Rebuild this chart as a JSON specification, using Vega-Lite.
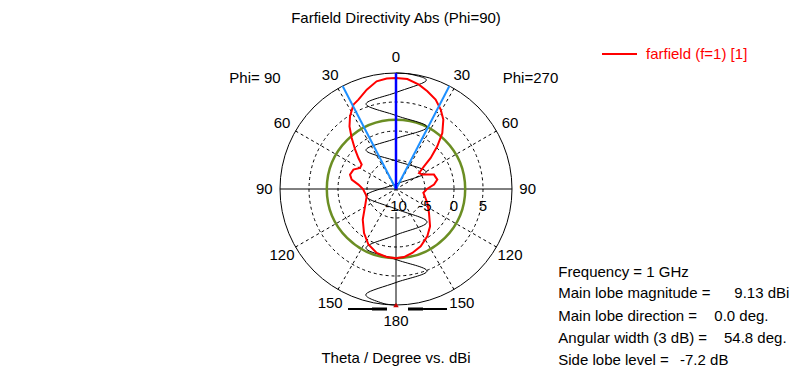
{
"$schema":"https://vega.github.io/schema/vega-lite/v6.json",
"width":792,"height":378,"padding":0,"autosize":{"type":"none"},
"background":"#ffffff",
"config":{"view":{"stroke":null},"text":{"font":"Liberation Sans","fontSize":15,"color":"#000000"}},
"datasets":{
"farfield":[
{"angle":0,"db":9.13},{"angle":5.9,"db":9.07},{"angle":12.4,"db":8.43},{"angle":17.8,"db":7.69},{"angle":23.9,"db":6.86},{"angle":29.4,"db":5.71},{"angle":34.3,"db":4.48},{"angle":39.6,"db":2.53},{"angle":44,"db":0.24},{"angle":48.2,"db":-1.98},{"angle":51,"db":-3.79},{"angle":55.2,"db":-5.17},{"angle":61.3,"db":-4.83},{"angle":69.2,"db":-3.0},{"angle":77.2,"db":-2.69},{"angle":83.4,"db":-3.4},{"angle":90,"db":-4.66},{"angle":97.7,"db":-5.24},{"angle":114,"db":-4.09},{"angle":126,"db":-2.97},{"angle":137.6,"db":-1.29},{"angle":146.5,"db":-0.22},{"angle":156.7,"db":0.76},{"angle":165.7,"db":1.38},{"angle":173.3,"db":1.81},{"angle":180,"db":1.93},
{"angle":187.8,"db":1.83},{"angle":196.8,"db":1.52},{"angle":206.4,"db":0.69},{"angle":216,"db":-0.62},{"angle":227.4,"db":-2.21},{"angle":240.8,"db":-3.88},{"angle":256,"db":-4.79},{"angle":270,"db":-4.31},{"angle":276.7,"db":-3.47},{"angle":282,"db":-2.19},{"angle":287.4,"db":-1.69},{"angle":294.5,"db":-1.93},{"angle":300.3,"db":-2.81},{"angle":305.4,"db":-2.74},{"angle":309.5,"db":-1.6},{"angle":314,"db":-0.19},{"angle":319,"db":1.64},{"angle":323.4,"db":3.45},{"angle":327.7,"db":4.83},{"angle":333.2,"db":6.29},{"angle":337.2,"db":6.72},{"angle":343.6,"db":7.86},{"angle":349.8,"db":8.86},{"angle":355.2,"db":9.1},{"angle":360,"db":9.13}
],
"trace":[
{"i":0,"angle":0,"db":10.0},{"i":1,"angle":7.95,"db":9.93},{"i":2,"angle":15.5,"db":9.33},{"i":3,"angle":0,"db":6.64},{"i":4,"angle":340.6,"db":5.54},{"i":5,"angle":0,"db":2.67},{"i":6,"angle":26.6,"db":1.95},{"i":7,"angle":0,"db":-1.29},{"i":8,"angle":322.4,"db":-1.52},{"i":9,"angle":0,"db":-5.17},{"i":10,"angle":60.5,"db":-4.05},{"i":11,"angle":0,"db":-9.14},{"i":12,"angle":256.9,"db":-4.69},{"i":13,"angle":180,"db":-6.55},{"i":14,"angle":136.8,"db":-2.19},{"i":15,"angle":180,"db":-2.07},{"i":16,"angle":207,"db":1.41},{"i":17,"angle":180,"db":2.16},{"i":18,"angle":159.3,"db":5.12},{"i":19,"angle":180,"db":6.12},{"i":20,"angle":195.9,"db":8.83},{"i":21,"angle":187,"db":9.81},{"i":22,"angle":180,"db":10.0}
],
"rings":[{"db":-5},{"db":0},{"db":5}],
"outer":[{"db":10}],
"sidelobe":[{"db":1.93}],
"spokes":[{"angle":30},{"angle":60},{"angle":120},{"angle":150},{"angle":210},{"angle":240},{"angle":300},{"angle":330}],
"lobes":[{"angle":0,"kind":"main"},{"angle":27.4,"kind":"width"},{"angle":332.6,"kind":"width"}],
"angleLabels":[{"angle":0,"label":"0"},{"angle":30,"label":"30"},{"angle":60,"label":"60"},{"angle":90,"label":"90"},{"angle":120,"label":"120"},{"angle":150,"label":"150"},{"angle":180,"label":"180"},{"angle":210,"label":"150"},{"angle":240,"label":"120"},{"angle":270,"label":"90"},{"angle":300,"label":"60"},{"angle":330,"label":"30"}],
"ringLabels":[{"db":-10,"label":"-10"},{"db":-5,"label":"-5"},{"db":0,"label":"0"},{"db":5,"label":"5"}]
},
"layer":[
{"data":{"name":"rings"},"transform":[{"calculate":"datum.db + 10","as":"rr"}],
 "mark":{"type":"point","shape":"circle","filled":false,"color":"#000000","stroke":"#000000","strokeWidth":1,"strokeDash":[3,3],"opacity":1},
 "encoding":{"x":{"datum":0,"type":"quantitative","scale":{"domain":[-68.276,68.276],"nice":false,"zero":false},"axis":null},
  "y":{"datum":0,"type":"quantitative","scale":{"domain":[-32.586,32.586],"nice":false,"zero":false},"axis":null},
  "size":{"field":"rr","type":"quantitative","scale":{"type":"pow","exponent":2,"domain":[0,20],"range":[0,53824]},"legend":null}}},
{"data":{"name":"outer"},"transform":[{"calculate":"datum.db + 10","as":"rr"}],
 "mark":{"type":"point","shape":"circle","filled":false,"color":"#000000","stroke":"#000000","strokeWidth":1,"opacity":1},
 "encoding":{"x":{"datum":0,"type":"quantitative","axis":null},"y":{"datum":0,"type":"quantitative","axis":null},
  "size":{"field":"rr","type":"quantitative","legend":null}}},
{"data":{"name":"spokes"},"transform":[{"calculate":"20 * sin(datum.angle * PI / 180)","as":"ex"},{"calculate":"20 * cos(datum.angle * PI / 180)","as":"ey"}],
 "mark":{"type":"rule","color":"#000000","strokeWidth":1,"strokeDash":[3,3]},
 "encoding":{"x":{"field":"ex","type":"quantitative","axis":null},"y":{"field":"ey","type":"quantitative","axis":null},"x2":{"datum":0},"y2":{"datum":0}}},
{"data":{"values":[{}]},"mark":{"type":"rule","color":"#000000","strokeWidth":1},
 "encoding":{"x":{"datum":-20,"type":"quantitative","axis":null},"x2":{"datum":20},"y":{"datum":0,"type":"quantitative","axis":null}}},
{"data":{"values":[{}]},"mark":{"type":"rule","color":"#000000","strokeWidth":1},
 "encoding":{"x":{"datum":0,"type":"quantitative","axis":null},"y":{"datum":-4,"type":"quantitative","axis":null},"y2":{"datum":-20}}},
{"data":{"name":"sidelobe"},"transform":[{"calculate":"datum.db + 10","as":"rr"}],
 "mark":{"type":"point","shape":"circle","filled":false,"color":"#6b8e23","stroke":"#6b8e23","strokeWidth":2.5,"opacity":1},
 "encoding":{"x":{"datum":0,"type":"quantitative","axis":null},"y":{"datum":0,"type":"quantitative","axis":null},
  "size":{"field":"rr","type":"quantitative","legend":null}}},
{"data":{"name":"trace"},"transform":[{"calculate":"(datum.db + 10) * sin(datum.angle * PI / 180)","as":"px"},{"calculate":"(datum.db + 10) * cos(datum.angle * PI / 180)","as":"py"}],
 "mark":{"type":"line","color":"#000000","strokeWidth":1,"interpolate":"cardinal"},
 "encoding":{"x":{"field":"px","type":"quantitative","axis":null},"y":{"field":"py","type":"quantitative","axis":null},"order":{"field":"i","type":"quantitative"}}},
{"data":{"name":"farfield"},"transform":[{"calculate":"(datum.db + 10) * sin(datum.angle * PI / 180)","as":"px"},{"calculate":"(datum.db + 10) * cos(datum.angle * PI / 180)","as":"py"},{"calculate":"'farfield (f=1) [1]'","as":"series"}],
 "mark":{"type":"line","strokeWidth":2,"interpolate":"linear"},
 "encoding":{"x":{"field":"px","type":"quantitative","axis":null},"y":{"field":"py","type":"quantitative","axis":null},"order":{"field":"angle","type":"quantitative"},
  "color":{"field":"series","type":"nominal","scale":{"range":["#ff0000"]},
   "legend":{"orient":"none","legendX":601,"legendY":35.5,"title":null,"padding":0,"symbolType":"stroke","symbolSize":1225,"symbolStrokeWidth":2,"labelFont":"Liberation Sans","labelFontSize":15,"labelColor":"#ff0000","labelOffset":8}}}},
{"data":{"name":"lobes"},"transform":[{"filter":"datum.kind == 'width'"},{"calculate":"20 * sin(datum.angle * PI / 180)","as":"ex"},{"calculate":"20 * cos(datum.angle * PI / 180)","as":"ey"}],
 "mark":{"type":"rule","color":"#1e90ff","strokeWidth":2},
 "encoding":{"x":{"field":"ex","type":"quantitative","axis":null},"y":{"field":"ey","type":"quantitative","axis":null},"x2":{"datum":0},"y2":{"datum":0}}},
{"data":{"name":"lobes"},"transform":[{"filter":"datum.kind == 'main'"},{"calculate":"20 * sin(datum.angle * PI / 180)","as":"ex"},{"calculate":"20 * cos(datum.angle * PI / 180)","as":"ey"}],
 "mark":{"type":"rule","color":"#0000ff","strokeWidth":2.5},
 "encoding":{"x":{"field":"ex","type":"quantitative","axis":null},"y":{"field":"ey","type":"quantitative","axis":null},"x2":{"datum":0},"y2":{"datum":0}}},
{"data":{"values":[{}]},"mark":{"type":"point","shape":"triangle-up","filled":true,"color":"#cc0000","size":30,"opacity":1},
 "encoding":{"x":{"datum":0,"type":"quantitative","axis":null},"y":{"datum":-20,"type":"quantitative","axis":null}}},
{"data":{"values":[{}]},"mark":{"type":"rule","color":"#000000","strokeWidth":2},
 "encoding":{"x":{"datum":-8.28,"type":"quantitative","axis":null},"x2":{"datum":-4.14},"y":{"datum":-20.69,"type":"quantitative","axis":null}}},
{"data":{"values":[{}]},"mark":{"type":"rule","color":"#000000","strokeWidth":3},
 "encoding":{"x":{"datum":-4.14,"type":"quantitative","axis":null},"x2":{"datum":-1.55},"y":{"datum":-20.69,"type":"quantitative","axis":null}}},
{"data":{"values":[{}]},"mark":{"type":"rule","color":"#000000","strokeWidth":3},
 "encoding":{"x":{"datum":2.07,"type":"quantitative","axis":null},"x2":{"datum":4.66},"y":{"datum":-20.69,"type":"quantitative","axis":null}}},
{"data":{"values":[{}]},"mark":{"type":"rule","color":"#000000","strokeWidth":2},
 "encoding":{"x":{"datum":4.66,"type":"quantitative","axis":null},"x2":{"datum":8.79},"y":{"datum":-20.69,"type":"quantitative","axis":null}}},
{"data":{"name":"angleLabels"},"transform":[{"calculate":"22.7 * sin(datum.angle * PI / 180)","as":"lx"},{"calculate":"22.7 * cos(datum.angle * PI / 180)","as":"ly"}],
 "mark":{"type":"text","align":"center","baseline":"middle"},
 "encoding":{"x":{"field":"lx","type":"quantitative","axis":null},"y":{"field":"ly","type":"quantitative","axis":null},"text":{"field":"label","type":"nominal"}}},
{"data":{"name":"ringLabels"},"transform":[{"calculate":"datum.db + 10","as":"rr"}],
 "mark":{"type":"text","align":"center","baseline":"middle","dy":17},
 "encoding":{"x":{"field":"rr","type":"quantitative","axis":null},"y":{"datum":0,"type":"quantitative","axis":null},"text":{"field":"label","type":"nominal"}}},
{"data":{"values":[{"t":"Phi= 90"}]},"mark":{"type":"text","align":"center","baseline":"middle"},
 "encoding":{"x":{"datum":-24.31,"type":"quantitative","axis":null},"y":{"datum":19.14,"type":"quantitative","axis":null},"text":{"field":"t","type":"nominal"}}},
{"data":{"values":[{"t":"Phi=270"}]},"mark":{"type":"text","align":"center","baseline":"middle"},
 "encoding":{"x":{"datum":23.19,"type":"quantitative","axis":null},"y":{"datum":19.14,"type":"quantitative","axis":null},"text":{"field":"t","type":"nominal"}}},
{"data":{"values":[{"t":"Farfield Directivity Abs (Phi=90)"}]},"mark":{"type":"text","align":"center","baseline":"middle"},
 "encoding":{"x":{"datum":0,"type":"quantitative","axis":null},"y":{"datum":29.4,"type":"quantitative","axis":null},"text":{"field":"t","type":"nominal"}}},
{"data":{"values":[{"t":"Theta / Degree vs. dBi"}]},"mark":{"type":"text","align":"center","baseline":"middle"},
 "encoding":{"x":{"datum":0,"type":"quantitative","axis":null},"y":{"datum":-29.14,"type":"quantitative","axis":null},"text":{"field":"t","type":"nominal"}}},
{"data":{"values":[{"t":"Frequency = 1 GHz"}]},"mark":{"type":"text","align":"left","baseline":"middle"},
 "encoding":{"x":{"datum":27.98,"type":"quantitative","axis":null},"y":{"datum":-14.26,"type":"quantitative","axis":null},"text":{"field":"t","type":"nominal"}}},
{"data":{"values":[{"t":"Main lobe magnitude ="}]},"mark":{"type":"text","align":"left","baseline":"middle"},
 "encoding":{"x":{"datum":27.98,"type":"quantitative","axis":null},"y":{"datum":-17.98,"type":"quantitative","axis":null},"text":{"field":"t","type":"nominal"}}},
{"data":{"values":[{"t":"9.13 dBi"}]},"mark":{"type":"text","align":"left","baseline":"middle"},
 "encoding":{"x":{"datum":58.33,"type":"quantitative","axis":null},"y":{"datum":-17.98,"type":"quantitative","axis":null},"text":{"field":"t","type":"nominal"}}},
{"data":{"values":[{"t":"Main lobe direction ="}]},"mark":{"type":"text","align":"left","baseline":"middle"},
 "encoding":{"x":{"datum":27.98,"type":"quantitative","axis":null},"y":{"datum":-21.84,"type":"quantitative","axis":null},"text":{"field":"t","type":"nominal"}}},
{"data":{"values":[{"t":"0.0 deg."}]},"mark":{"type":"text","align":"left","baseline":"middle"},
 "encoding":{"x":{"datum":54.88,"type":"quantitative","axis":null},"y":{"datum":-21.84,"type":"quantitative","axis":null},"text":{"field":"t","type":"nominal"}}},
{"data":{"values":[{"t":"Angular width (3 dB) ="}]},"mark":{"type":"text","align":"left","baseline":"middle"},
 "encoding":{"x":{"datum":27.98,"type":"quantitative","axis":null},"y":{"datum":-25.74,"type":"quantitative","axis":null},"text":{"field":"t","type":"nominal"}}},
{"data":{"values":[{"t":"54.8 deg."}]},"mark":{"type":"text","align":"left","baseline":"middle"},
 "encoding":{"x":{"datum":56.55,"type":"quantitative","axis":null},"y":{"datum":-25.74,"type":"quantitative","axis":null},"text":{"field":"t","type":"nominal"}}},
{"data":{"values":[{"t":"Side lobe level ="}]},"mark":{"type":"text","align":"left","baseline":"middle"},
 "encoding":{"x":{"datum":27.98,"type":"quantitative","axis":null},"y":{"datum":-29.48,"type":"quantitative","axis":null},"text":{"field":"t","type":"nominal"}}},
{"data":{"values":[{"t":"-7.2 dB"}]},"mark":{"type":"text","align":"left","baseline":"middle"},
 "encoding":{"x":{"datum":48.97,"type":"quantitative","axis":null},"y":{"datum":-29.48,"type":"quantitative","axis":null},"text":{"field":"t","type":"nominal"}}}
]
}
